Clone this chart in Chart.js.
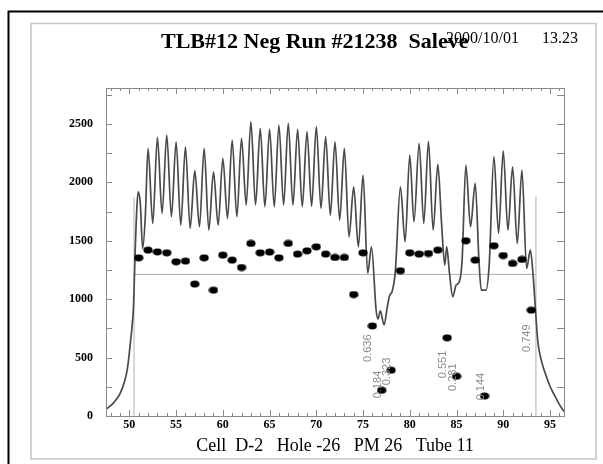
<!DOCTYPE html>
<html><head><meta charset="utf-8">
<script src="https://cdn.jsdelivr.net/npm/chart.js@4/dist/chart.umd.min.js"></script>
<style>html,body{margin:0;padding:0;background:#fff;}#wrap{position:relative;width:603px;height:464px;}</style>
</head><body><div id="wrap"><canvas id="c" width="603" height="464"></canvas></div>
<script>
// ---------------- data ----------------
const titleText = 'TLB#12 Neg Run #21238  Saleve';
const dateText = '2000/10/01';
const timeText = '13.23';
const xAxisTitle = 'Cell  D-2   Hole -26   PM 26   Tube 11';
const xTickValues = [50, 55, 60, 65, 70, 75, 80, 85, 90, 95];
const yTickValues = [0, 500, 1000, 1500, 2000, 2500];

const waveX = [47.5, 48.0, 48.5, 49.0, 49.5, 49.8, 50.1, 50.3, 50.45, 50.6, 50.8, 50.95, 51.17, 51.42, 51.7,
  52.0, 52.5, 53.0, 53.5, 54.0, 54.5, 55.0, 55.5, 56.0, 56.5, 57.0, 57.5, 58.0, 58.5, 59.0, 59.5,
  60.0, 60.5, 61.0, 61.5, 62.0, 62.5, 63.0, 63.5, 64.0, 64.5, 65.0, 65.5, 66.0, 66.5, 67.0, 67.5,
  68.0, 68.5, 69.0, 69.5, 70.0, 70.5, 71.0, 71.5, 72.0, 72.5, 73.0, 73.5, 74.0, 74.5, 75.0, 75.5,
  75.9, 76.4, 76.6, 76.85, 77.25, 77.6, 77.85, 78.1, 78.45, 79.0, 79.5, 80.0, 80.45, 81.0, 81.5,
  82.0, 82.5, 83.0, 83.4, 83.75, 83.95, 84.25, 84.6, 84.95, 85.3, 85.6, 86.0, 86.5, 87.0, 87.4,
  87.65, 88.15, 88.5, 89.0, 89.5, 90.0, 90.5, 91.0, 91.5, 92.0, 92.5, 92.9, 93.2, 93.45, 93.7,
  94.0, 94.5, 95.0, 95.5, 96.0, 96.5];
const waveY = [57, 88, 130, 192, 300, 410, 620, 780, 950, 1350, 1780, 1920, 1822, 1434, 1700,
  2291, 1649, 2385, 1734, 2405, 1706, 2348, 1634, 2305, 1606, 2100, 1620, 2291, 1591, 2091, 1634,
  2206, 1691, 2363, 1706, 2377, 1806, 2520, 1806, 2463, 1791, 2454, 1791, 2491, 1806, 2506, 1806,
  2454, 1791, 2434, 1797, 2477, 1777, 2391, 1720, 2348, 1677, 2291, 1534, 1962, 1448, 2063, 1222,
  1448, 906, 830, 900, 780, 934, 1034, 1063, 1234, 1962, 1491, 2234, 1663, 2334, 1649,
  2352, 1591, 2155, 1650, 1291, 1448, 1220, 1020, 1120, 1149, 1334, 2149, 1620, 1992, 1334,
  1077, 1077, 1300, 2220, 1563, 2271, 1591, 2134, 1477, 2106, 1263, 1420, 1200, 906, 640,
  500, 363, 255, 175, 100, 38];

const cellX = [51, 52, 53, 54, 55, 56, 57, 58, 59, 60, 61, 62, 63, 64, 65, 66, 67, 68, 69, 70, 71, 72,
  73, 74, 75, 76, 77, 78, 79, 80, 81, 82, 83, 84, 85, 86, 87, 88, 89, 90, 91, 92, 93];
const cellY = [1354, 1420, 1405, 1397, 1320, 1326, 1129, 1354, 1077, 1377, 1334, 1271, 1477, 1397, 1403,
  1354, 1477, 1386, 1414, 1448, 1386, 1357, 1357, 1040, 1397, 771, 220, 392, 1243, 1397, 1386, 1391,
  1420, 669, 340, 1500, 1334, 171, 1457, 1374, 1306, 1340, 906];

const meanValue = 1212;
const edgeX = [50.5, 93.5];
const edgeTop = 1877;

const ratioCells = [76, 77, 78, 84, 85, 88, 93];
const ratioLabels = ['0.636', '0.184', '0.323', '0.551', '0.281', '0.144', '0.749'];
const ratioLabelBase = [463, 152, 263, 323, 214, 134, 548];

// ---------------- build ----------------
const wavePts = waveX.map((x, i) => ({x, y: waveY[i]}));
const cellPts = cellX.map((x, i) => ({x, y: cellY[i]}));
const meanPts = [{x: edgeX[0], y: meanValue}, {x: edgeX[1], y: meanValue}];
const edgeL = [{x: edgeX[0], y: 0}, {x: edgeX[0], y: edgeTop}];
const edgeR = [{x: edgeX[1], y: 0}, {x: edgeX[1], y: edgeTop}];

const dot = document.createElement('canvas');
dot.width = 10; dot.height = 8;
(function(){ const c = dot.getContext('2d'); c.fillStyle = '#000'; c.beginPath(); c.ellipse(5, 4, 4.6, 3.4, 0, 0, Math.PI * 2); c.fill(); })();

const serif = "'Liberation Serif', 'DejaVu Serif', serif";

const deco = {
  id: 'deco',
  beforeDraw(chart) {
    const ctx = chart.ctx;
    ctx.save();
    ctx.fillStyle = '#fff';
    ctx.fillRect(0, 0, chart.width, chart.height);
    ctx.strokeStyle = '#000'; ctx.lineWidth = 2;
    ctx.beginPath(); ctx.moveTo(8.5, 464); ctx.lineTo(8.5, 11.5); ctx.lineTo(603, 11.5); ctx.stroke();
    ctx.strokeStyle = '#c4c4c4'; ctx.lineWidth = 1.5;
    ctx.strokeRect(31, 23.5, 565, 435.5);
    ctx.restore();
  },
  afterDatasetsDraw(chart) {
    const ctx = chart.ctx, a = chart.chartArea;
    const xs = chart.scales.x, ys = chart.scales.y;
    ctx.save();
    ctx.strokeStyle = '#8a8a8a'; ctx.lineWidth = 1;
    ctx.strokeRect(Math.round(a.left) + 0.5, Math.round(a.top) + 0.5, Math.round(a.right - a.left), Math.round(a.bottom - a.top));
    ctx.beginPath();
    for (let v = Math.ceil(xs.min); v <= xs.max; v++) {
      const px = Math.round(xs.getPixelForValue(v)) + 0.5;
      const len = v % 5 === 0 ? 6 : 3;
      ctx.moveTo(px, a.bottom); ctx.lineTo(px, a.bottom - len);
      ctx.moveTo(px, a.top); ctx.lineTo(px, a.top + len);
    }
    for (let v = 0; v <= ys.max; v += 250) {
      const py = Math.round(ys.getPixelForValue(v)) + 0.5;
      ctx.moveTo(a.left, py); ctx.lineTo(a.left + 6, py);
      ctx.moveTo(a.right, py); ctx.lineTo(a.right - 7, py);
    }
    ctx.stroke();
    ctx.restore();
  },
  afterDraw(chart) {
    const ctx = chart.ctx;
    const xs = chart.scales.x, ys = chart.scales.y;
    ctx.save();
    ctx.fillStyle = '#000';
    ctx.textBaseline = 'alphabetic';
    ctx.textAlign = 'left';
    ctx.font = 'bold 22px ' + serif;
    ctx.fillText(titleText, 161, 48);
    ctx.font = '16px ' + serif;
    ctx.fillText(dateText, 446, 43);
    ctx.fillText(timeText, 542, 43);
    ctx.fillStyle = '#8c8c8c';
    ctx.font = "11px 'Liberation Sans', Arial, sans-serif";
    ratioCells.forEach((cx, i) => {
      const px = xs.getPixelForValue(cx) - 1;
      const py = ys.getPixelForValue(ratioLabelBase[i]);
      ctx.save();
      ctx.translate(px, py);
      ctx.rotate(-Math.PI / 2);
      ctx.textAlign = 'left';
      ctx.textBaseline = 'alphabetic';
      ctx.fillText(ratioLabels[i], 0, 0);
      ctx.restore();
    });
    ctx.restore();
  }
};

new Chart(document.getElementById('c'), {
  type: 'scatter',
  data: {
    datasets: [
      {label: 'cells', data: cellPts, pointStyle: dot, pointRadius: 4, showLine: false},
      {label: 'wave', data: wavePts, showLine: true, borderColor: '#4a4a4a', borderWidth: 1.7,
        pointRadius: 0, cubicInterpolationMode: 'monotone', fill: false},
      {label: 'mean', data: meanPts, showLine: true, borderColor: '#b0b0b0', borderWidth: 1, pointRadius: 0},
      {label: 'edgeL', data: edgeL, showLine: true, borderColor: '#b0b0b0', borderWidth: 1, pointRadius: 0},
      {label: 'edgeR', data: edgeR, showLine: true, borderColor: '#b0b0b0', borderWidth: 1, pointRadius: 0}
    ]
  },
  options: {
    responsive: false,
    devicePixelRatio: 1,
    animation: false,
    events: [],
    layout: {padding: {left: 0, right: 39, top: 88, bottom: 0}},
    plugins: {legend: {display: false}, tooltip: {enabled: false}, title: {display: false}},
    scales: {
      x: {
        type: 'linear', min: 47.5, max: 96.5,
        grid: {display: false, drawTicks: false},
        border: {display: false},
        afterBuildTicks: s => { s.ticks = xTickValues.map(v => ({value: v})); },
        afterFit: s => { s.height = 48; },
        ticks: {color: '#000', padding: 2, maxRotation: 0, autoSkip: false,
          callback: v => String(v),
          font: {family: serif, size: 12, weight: 'bold'}},
        title: {display: true, text: xAxisTitle, color: '#000',
          font: {family: serif, size: 18}, padding: {top: 0, bottom: 7}}
      },
      y: {
        type: 'linear', min: 0, max: 2808,
        grid: {display: false, drawTicks: false},
        border: {display: false},
        afterBuildTicks: s => { s.ticks = yTickValues.map(v => ({value: v})); },
        afterFit: s => { s.width = 106; },
        ticks: {color: '#000', padding: 13, callback: v => String(v),
          font: {family: serif, size: 12, weight: 'bold'}}
      }
    }
  },
  plugins: [deco]
});
</script></body></html>
